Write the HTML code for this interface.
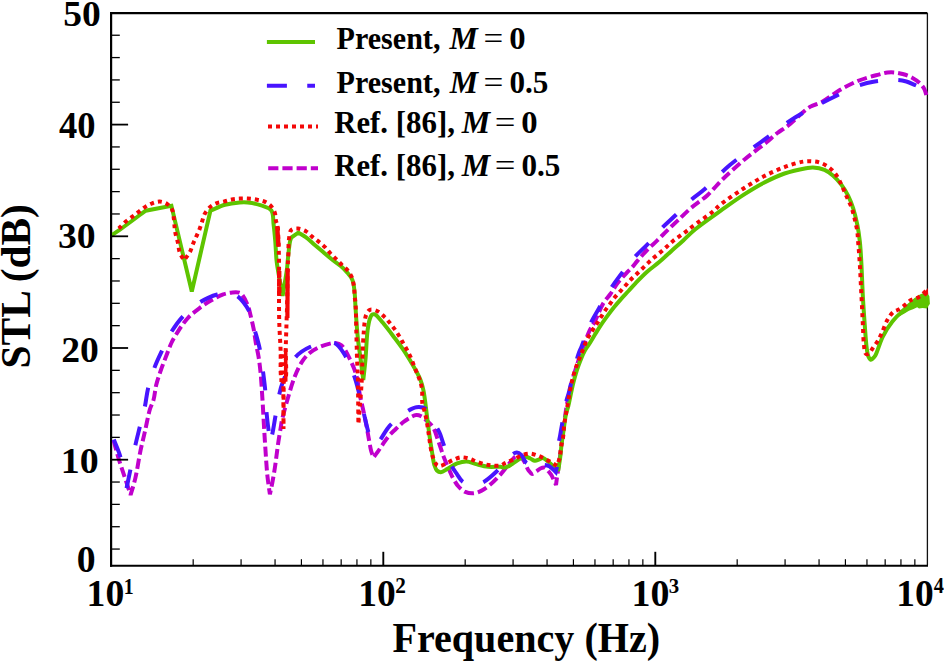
<!DOCTYPE html>
<html><head><meta charset="utf-8"><style>
html,body{margin:0;padding:0;background:#fff;}
body{width:944px;height:663px;overflow:hidden;}
svg{display:block;}
text{font-family:"Liberation Serif",serif;font-weight:bold;fill:#000;}
</style></head><body>
<svg width="944" height="663" viewBox="0 0 944 663">
<defs><clipPath id="c"><rect x="112" y="12" width="818" height="553"/></clipPath></defs>
<path d="M111.5,13.1 H927.4" stroke="#000" stroke-width="2.2" fill="none"/>
<path d="M927.4,12.9 V565.6" stroke="#111" stroke-width="1.3" fill="none"/>
<path d="M111.1,12 V566.8" stroke="#000" stroke-width="2.2" fill="none"/>
<path d="M110,565.8 H928" stroke="#000" stroke-width="2" fill="none"/>
<g clip-path="url(#c)" fill="none" stroke-width="4" stroke-linejoin="miter" stroke-miterlimit="3">
<path d="M113.60,440.50 C115.37,446.83 116.99,453.23 118.90,459.50 C120.79,465.73 123.01,471.97 125.00,478.00 C126.90,483.76 128.73,489.27 130.60,494.90 C132.17,489.40 133.83,484.65 135.30,478.40 C137.19,470.39 138.75,459.06 140.50,450.70 C141.96,443.73 143.39,438.24 144.90,431.60 C146.55,424.39 148.23,414.78 150.00,409.00 C151.14,405.27 152.53,403.43 153.50,400.00 C154.71,395.71 155.00,390.00 156.20,385.10 C157.40,380.20 159.04,375.41 160.70,370.60 C162.37,365.74 164.36,360.85 166.20,356.10 C167.99,351.49 169.56,346.71 171.60,342.50 C173.49,338.59 176.03,334.64 177.90,331.60 C179.29,329.34 180.19,327.88 181.70,325.80 C183.59,323.20 185.86,320.01 188.50,317.30 C191.41,314.32 195.02,311.50 198.60,308.80 C202.33,305.99 206.39,303.20 210.50,300.80 C214.59,298.41 219.21,295.79 223.20,294.40 C226.46,293.27 229.63,292.75 232.50,292.50 C234.93,292.29 237.62,292.17 239.30,292.70 C240.43,293.06 241.00,293.41 241.90,294.40 C243.71,296.38 246.26,301.51 247.80,305.40 C249.38,309.40 250.19,314.00 251.20,318.10 C252.14,321.91 252.96,325.30 253.70,329.20 C254.51,333.49 255.00,338.28 255.80,342.80 C256.60,347.34 257.73,351.70 258.50,356.40 C259.32,361.41 259.91,366.04 260.50,372.00 C261.29,379.97 261.92,390.95 262.50,400.00 C263.04,408.52 263.44,417.04 263.90,424.80 C264.31,431.66 264.69,437.85 265.10,444.20 C265.49,450.34 265.88,456.60 266.30,462.30 C266.68,467.40 266.94,471.75 267.50,476.80 C268.11,482.37 269.10,488.47 269.90,494.30 C270.70,490.47 271.53,486.86 272.30,482.80 C273.17,478.25 274.07,473.04 274.80,468.30 C275.50,463.78 276.00,459.43 276.60,455.00 C277.20,450.57 277.72,446.22 278.40,441.70 C279.11,436.97 280.14,431.20 280.80,427.20 C281.27,424.38 281.35,422.99 282.00,420.00 C283.11,414.89 285.45,406.51 287.50,399.50 C289.69,392.03 292.09,383.25 294.80,376.50 C297.04,370.90 299.39,365.72 302.10,361.60 C304.31,358.24 306.51,355.59 309.30,353.20 C312.13,350.78 315.57,348.80 319.00,347.20 C322.44,345.60 326.87,344.26 329.90,343.60 C331.99,343.15 333.47,342.78 335.30,343.00 C337.30,343.24 339.45,343.59 341.40,345.20 C344.62,347.85 347.87,355.16 350.40,360.30 C352.83,365.24 354.82,369.85 356.40,375.40 C358.22,381.79 358.94,390.37 360.20,396.60 C361.20,401.56 362.22,405.37 363.20,409.90 C364.22,414.60 365.28,419.59 366.20,424.30 C367.08,428.82 367.78,433.19 368.60,437.60 C369.41,441.99 370.12,447.07 371.10,450.70 C371.82,453.37 372.70,455.23 373.50,457.50 C374.90,455.63 376.27,453.91 377.70,451.90 C379.30,449.65 380.86,447.11 382.60,444.60 C384.48,441.88 386.39,438.81 388.60,436.20 C390.79,433.61 393.37,431.33 395.80,429.00 C398.20,426.70 400.60,424.26 403.10,422.30 C405.44,420.46 407.95,418.74 410.30,417.50 C412.33,416.43 414.38,415.23 416.30,415.10 C418.00,414.98 419.57,415.50 421.20,416.30 C423.21,417.29 425.27,419.29 427.20,421.10 C429.28,423.05 431.50,424.95 433.20,427.70 C435.30,431.10 436.47,435.89 438.10,440.40 C439.93,445.45 441.83,451.94 443.60,456.60 C444.97,460.21 446.14,462.75 447.60,466.10 C449.27,469.92 451.12,474.70 453.10,478.30 C454.79,481.38 456.39,484.19 458.50,486.50 C460.49,488.67 462.78,490.77 465.30,491.90 C467.76,493.00 470.72,493.50 473.40,493.30 C476.15,493.10 478.96,491.90 481.60,490.60 C484.41,489.22 486.91,487.40 489.70,485.10 C493.19,482.23 497.16,478.11 500.60,474.30 C504.07,470.45 507.54,465.37 510.40,462.10 C512.44,459.76 514.04,457.10 515.90,456.30 C517.22,455.73 518.68,455.73 519.90,456.30 C521.44,457.02 522.71,459.22 524.00,461.20 C525.62,463.69 526.89,468.05 528.50,470.30 C529.64,471.89 530.75,473.73 532.10,473.90 C533.48,474.08 535.28,472.14 536.70,471.20 C538.00,470.34 538.96,469.10 540.30,468.50 C541.66,467.89 543.48,467.20 544.80,467.60 C546.19,468.02 547.31,469.97 548.40,471.20 C549.43,472.37 550.23,473.23 551.20,474.80 C552.72,477.27 554.40,481.60 556.00,485.00 C556.33,482.50 556.58,480.44 557.00,477.50 C557.60,473.28 558.54,467.70 559.30,462.10 C560.21,455.40 560.99,447.93 562.00,440.00 C563.18,430.76 564.42,419.52 566.00,410.00 C567.45,401.26 568.96,393.11 571.00,385.00 C572.98,377.12 575.22,370.24 578.00,362.00 C581.30,352.21 586.44,337.30 589.80,330.20 C591.60,326.40 592.94,325.19 594.70,321.80 C597.23,316.94 600.11,308.57 603.10,303.60 C605.42,299.74 608.03,297.34 610.40,294.00 C612.87,290.52 614.88,286.64 617.60,283.10 C620.48,279.36 624.59,275.07 627.30,272.20 C629.15,270.24 630.51,269.17 632.10,267.40 C633.87,265.44 635.34,263.32 637.40,260.90 C640.12,257.71 643.75,253.45 647.10,250.00 C650.39,246.62 653.92,243.68 657.30,240.40 C660.75,237.05 664.14,233.46 667.60,230.10 C671.01,226.79 674.27,223.83 677.90,220.40 C681.98,216.55 686.22,212.12 690.90,208.10 C695.93,203.78 701.96,200.13 707.20,195.40 C712.75,190.39 717.36,184.37 723.20,178.70 C729.76,172.34 738.74,164.29 744.80,159.20 C748.98,155.69 752.07,153.53 755.70,150.70 C759.33,147.87 763.01,145.13 766.60,142.20 C770.24,139.23 773.72,135.84 777.40,133.00 C780.96,130.25 784.14,128.62 788.30,125.40 C794.38,120.69 803.47,110.80 809.90,106.90 C814.22,104.28 817.57,104.34 821.80,102.10 C827.23,99.22 833.26,93.88 839.40,90.30 C845.65,86.66 852.35,83.14 859.00,80.50 C865.43,77.95 873.32,76.02 878.60,74.60 C882.13,73.65 884.63,72.83 887.50,72.50 C890.11,72.20 892.59,72.25 895.10,72.50 C897.62,72.75 900.01,73.26 902.60,74.00 C905.52,74.83 908.83,75.86 911.70,77.40 C914.64,78.98 917.78,81.22 920.00,83.40 C921.90,85.27 923.42,87.29 924.50,89.40 C925.49,91.34 925.90,93.74 926.40,95.50 C926.78,96.82 927.00,97.83 927.30,99.00" stroke="#c000cc" stroke-dasharray="10 4"/>
<path d="M111.30,235.50 C114.20,233.53 116.36,232.17 120.00,229.60 C126.33,225.13 137.13,217.00 145.70,210.70 C154.27,209.07 162.83,207.43 171.40,205.80 C178.20,234.37 185.00,262.93 191.80,291.50 C198.00,264.57 204.20,237.63 210.40,210.70 C215.27,208.73 220.04,206.17 225.00,204.80 C229.82,203.47 235.54,202.82 239.70,202.50 C242.73,202.26 244.63,202.19 247.60,202.50 C251.54,202.92 257.08,203.96 261.20,205.40 C264.94,206.71 269.30,207.62 271.40,210.50 C273.75,213.72 272.97,219.67 273.60,224.60 C274.29,229.99 274.82,235.82 275.30,241.60 C275.80,247.61 276.01,255.13 276.50,260.00 C276.83,263.22 277.05,264.53 277.60,268.00 C278.63,274.51 280.93,286.67 282.60,296.00 C284.10,286.67 286.29,274.51 287.10,268.00 C287.53,264.53 287.47,263.21 287.80,260.00 C288.30,255.12 289.15,245.47 290.00,241.60 C290.41,239.75 290.87,238.93 291.30,237.60 C293.63,235.93 295.97,234.27 298.30,232.60 C300.77,234.13 303.21,235.39 305.70,237.20 C308.51,239.25 311.38,242.00 314.20,244.40 C317.01,246.80 319.79,249.20 322.60,251.60 C325.42,254.00 328.15,256.43 331.10,258.80 C334.17,261.27 337.97,263.76 340.70,266.10 C342.91,268.00 344.57,269.49 346.40,271.60 C348.49,274.00 351.02,276.61 352.40,279.90 C354.00,283.70 354.20,289.01 354.70,293.40 C355.17,297.53 355.07,300.50 355.40,305.50 C355.94,313.66 356.79,327.92 357.80,337.70 C358.65,345.94 359.85,353.11 360.80,360.40 C361.68,367.17 362.47,373.47 363.30,380.00 C364.00,373.47 364.75,367.64 365.40,360.40 C366.21,351.42 366.58,337.80 367.60,330.20 C368.23,325.54 368.84,321.83 369.80,319.00 C370.43,317.14 371.03,315.29 372.00,314.60 C372.68,314.12 373.62,314.12 374.40,314.30 C375.29,314.51 376.03,315.15 377.00,316.00 C378.62,317.42 380.55,319.97 382.70,322.60 C385.73,326.29 389.69,331.41 393.30,336.20 C397.24,341.43 401.78,347.31 405.40,352.80 C408.75,357.87 411.76,363.10 414.40,367.90 C416.71,372.11 418.95,376.03 420.50,380.00 C421.90,383.58 422.59,386.20 423.50,390.60 C424.95,397.58 426.10,409.89 427.20,418.10 C428.09,424.76 428.77,430.39 429.60,436.20 C430.37,441.62 431.16,446.90 432.00,451.90 C432.77,456.50 433.33,461.72 434.40,465.10 C435.11,467.35 435.67,469.31 436.90,470.50 C437.95,471.51 439.41,472.25 440.90,472.20 C442.86,472.13 445.19,470.10 447.60,468.80 C450.51,467.24 453.83,464.64 457.10,463.40 C460.18,462.23 463.45,461.29 466.60,461.40 C469.78,461.51 472.72,463.25 476.10,464.10 C479.90,465.06 484.20,466.35 488.30,466.80 C492.37,467.24 497.54,466.52 500.60,466.80 C502.44,466.97 503.40,467.83 505.00,467.60 C507.15,467.29 509.77,465.42 512.20,464.00 C514.89,462.43 517.87,459.74 520.40,458.50 C522.32,457.56 524.09,456.65 525.80,456.70 C527.38,456.75 528.81,457.83 530.30,458.50 C531.84,459.19 533.35,460.67 534.90,460.80 C536.38,460.92 537.99,459.87 539.40,459.40 C540.67,458.97 541.77,457.94 543.00,458.10 C544.46,458.29 545.95,460.02 547.50,461.20 C549.27,462.55 551.43,464.19 553.00,465.80 C554.41,467.24 555.40,468.80 556.60,470.30 C557.20,470.00 557.80,469.70 558.40,469.40 C559.00,465.47 559.68,461.68 560.20,457.60 C560.76,453.23 561.04,448.54 561.60,444.00 C562.17,439.41 562.92,434.90 563.60,430.20 C564.31,425.28 564.88,419.47 565.80,415.10 C566.52,411.66 567.38,409.74 568.30,406.00 C569.75,400.09 571.51,390.01 573.30,383.00 C574.84,376.99 576.26,371.82 578.20,366.40 C580.13,360.99 582.82,354.35 584.90,350.50 C586.19,348.11 587.24,347.12 588.60,345.00 C590.41,342.18 592.67,338.29 594.70,335.00 C596.70,331.76 598.66,328.48 600.70,325.40 C602.66,322.45 604.57,319.80 606.70,316.90 C608.99,313.78 611.53,310.37 614.00,307.30 C616.37,304.35 618.76,301.54 621.20,298.80 C623.59,296.11 626.08,293.62 628.50,291.00 C630.92,288.38 632.99,285.93 635.70,283.10 C639.03,279.63 643.15,275.33 647.10,271.80 C650.99,268.33 655.23,265.49 659.20,262.10 C663.26,258.63 667.18,254.82 671.20,251.20 C675.22,247.58 679.32,244.03 683.30,240.40 C687.25,236.80 690.18,233.48 695.00,229.50 C701.85,223.84 712.82,216.32 721.10,210.40 C728.50,205.11 735.16,200.22 742.30,195.60 C749.26,191.10 756.26,186.72 763.40,183.00 C770.33,179.39 777.32,175.98 784.50,173.50 C791.53,171.08 800.77,169.14 806.00,168.20 C808.95,167.67 810.39,167.28 813.00,167.40 C816.37,167.56 821.06,168.34 824.50,169.80 C827.75,171.18 830.47,173.32 833.20,175.70 C836.17,178.28 839.02,181.60 841.50,184.90 C843.99,188.23 846.19,191.81 848.10,195.60 C850.08,199.52 851.63,203.59 853.10,208.10 C854.75,213.19 856.18,219.14 857.30,224.70 C858.41,230.21 859.16,235.59 859.80,241.30 C860.48,247.34 860.76,252.70 861.20,260.00 C861.82,270.28 862.25,285.65 862.90,297.20 C863.47,307.28 864.13,316.60 864.80,325.50 C865.40,333.46 865.89,342.41 866.70,348.10 C867.20,351.60 867.55,354.40 868.40,356.50 C868.97,357.92 869.69,359.60 870.50,359.80 C871.13,359.96 871.91,359.16 872.60,358.60 C873.48,357.89 874.26,357.21 875.20,355.70 C877.34,352.25 879.75,342.62 882.70,336.80 C885.47,331.35 888.78,325.98 892.20,321.70 C895.15,318.01 898.30,314.89 901.60,312.30 C904.60,309.95 907.79,308.20 911.00,306.60 C914.10,305.06 917.57,303.79 920.50,302.80 C922.93,301.98 925.03,301.53 927.30,300.90" stroke="#5ec400"/>
<path d="M899,311.5 L906.8,304.5 L914.5,298.1 L919.9,294.5 L923.5,293.1 L928,294 L929.4,296.3 L929.9,304 L929,304.9 L927.1,308.5 L922.6,308.1 L919,308.5 L917.2,307.2 L913.6,309 L909,310.8 L904.5,313.5 L900,316 Z" fill="#5ec400" stroke="none"/>
<path d="M113.80,439.50 C116.07,445.53 118.65,450.67 120.60,457.60 C123.08,466.44 124.53,478.20 126.50,488.50 C128.00,481.27 129.53,474.00 131.00,466.80 C132.46,459.67 133.79,452.31 135.30,445.50 C136.70,439.18 138.16,433.57 139.70,427.30 C141.35,420.59 143.48,413.19 144.90,406.50 C146.20,400.36 146.53,394.82 148.00,388.70 C149.61,381.99 151.91,374.53 154.40,367.90 C156.78,361.56 159.65,355.72 162.50,349.70 C165.38,343.62 168.12,337.24 171.60,331.60 C174.98,326.13 178.48,321.05 183.00,316.30 C187.89,311.16 195.53,305.25 200.20,302.10 C203.07,300.17 204.93,299.32 207.60,298.10 C210.55,296.76 214.02,295.26 217.20,294.50 C220.15,293.79 222.93,293.32 226.00,293.50 C229.43,293.70 233.73,294.30 236.80,296.00 C239.81,297.67 242.21,300.88 244.30,303.50 C246.21,305.90 247.53,307.76 249.00,311.00 C251.27,316.01 253.24,324.69 255.10,331.30 C256.86,337.54 258.60,343.14 259.90,349.60 C261.33,356.70 262.18,365.12 263.10,372.20 C263.91,378.46 264.65,383.65 265.20,389.90 C265.82,396.90 265.89,405.13 266.50,412.20 C267.05,418.64 267.87,425.34 268.60,430.60 C269.15,434.57 269.73,437.53 270.30,441.00 C271.00,438.50 271.71,436.53 272.40,433.50 C273.43,428.96 274.31,422.44 275.40,416.30 C276.65,409.23 278.08,399.62 279.50,393.50 C280.47,389.30 280.87,387.18 282.50,383.00 C285.14,376.22 290.01,363.54 295.40,357.30 C299.70,352.32 305.52,349.00 310.40,346.80 C314.34,345.02 318.09,344.63 322.00,344.00 C325.89,343.37 331.21,342.50 333.80,343.00 C335.18,343.26 335.69,343.59 336.80,344.50 C338.93,346.25 341.98,350.31 344.40,354.30 C347.59,359.57 351.07,367.82 353.40,373.90 C355.33,378.95 356.28,382.55 357.80,388.10 C359.90,395.80 362.43,407.79 364.40,415.90 C365.94,422.24 366.93,427.46 368.60,432.80 C370.16,437.79 372.20,442.27 374.00,447.00 C376.07,444.60 378.00,442.68 380.20,439.80 C383.16,435.93 385.69,430.09 389.80,425.60 C394.59,420.37 402.83,414.00 407.90,410.90 C411.08,408.96 413.34,407.54 416.30,407.20 C419.37,406.84 423.08,406.95 426.00,409.00 C430.32,412.04 434.42,423.14 436.90,427.70 C438.30,430.26 439.01,431.45 440.00,433.80 C441.27,436.81 442.12,440.25 443.60,444.40 C445.73,450.36 448.96,460.70 451.70,466.10 C453.48,469.61 455.25,471.66 457.10,474.30 C458.89,476.86 460.18,479.91 462.60,481.70 C465.13,483.57 468.81,484.94 472.10,485.10 C475.56,485.27 479.25,484.21 482.90,482.40 C487.59,480.07 492.54,475.27 497.20,470.90 C502.33,466.09 508.39,457.16 512.20,454.50 C514.00,453.24 515.29,452.54 516.80,452.60 C518.32,452.66 519.89,453.63 521.30,454.90 C523.27,456.66 524.29,461.43 526.70,463.10 C528.94,464.66 532.17,464.70 535.00,465.00 C537.90,465.31 541.32,464.61 543.90,464.90 C545.94,465.13 547.54,465.26 549.30,466.20 C551.50,467.37 553.57,470.13 555.70,472.10 C556.30,469.40 557.06,467.29 557.50,464.00 C558.17,459.02 557.80,450.31 558.40,445.00 C558.84,441.12 559.60,438.40 560.20,435.00 C560.83,431.47 561.32,428.51 562.10,424.20 C563.27,417.74 565.32,405.15 566.60,400.00 C567.22,397.53 567.55,397.25 568.30,394.60 C570.31,387.47 575.50,363.06 578.20,354.80 C579.46,350.94 580.21,349.97 581.60,346.50 C583.92,340.70 587.49,330.01 590.70,323.20 C593.35,317.58 595.92,313.64 599.00,308.30 C602.66,301.96 607.40,293.66 611.30,287.70 C614.43,282.91 616.87,279.63 620.30,275.10 C624.49,269.56 629.98,262.38 634.80,257.00 C639.04,252.26 643.19,248.86 647.50,244.30 C652.25,239.27 657.14,233.00 662.00,228.00 C666.48,223.40 670.88,219.76 675.50,215.30 C680.50,210.47 685.89,204.44 690.90,200.00 C695.22,196.17 698.73,194.21 703.60,190.00 C710.85,183.72 720.25,173.16 729.60,165.30 C739.41,157.06 750.53,149.66 761.30,141.80 C772.36,133.73 784.29,124.28 795.10,117.50 C804.33,111.71 814.04,107.03 821.80,103.00 C827.69,99.94 831.83,97.90 837.50,95.20 C844.08,92.07 852.29,87.74 859.00,85.40 C864.55,83.46 868.94,82.40 874.70,81.50 C881.53,80.43 891.57,79.71 897.40,80.00 C901.09,80.18 903.51,80.68 906.40,81.50 C909.27,82.32 911.67,83.55 914.70,84.90 C918.49,86.59 923.10,88.97 927.30,91.00" stroke="#4814ff" stroke-dasharray="19.00 32.09 19.00 24.86 19.00 20.92 19.00 20.85 19.00 21.20 19.00 22.58 19.00 20.40 19.00 20.99 19.00 21.95 19.00 21.71 19.00 17.10 19.00 21.43 19.00 22.02 19.00 23.31 19.00 19.63 19.00 20.65 19.00 26.10 19.00 21.17 19.00 22.48 19.00 21.90 19.00 21.58 19.00 22.07 19.00 18.32 19.00 25.97 19.00 21.05 19.00 25.11 19.00 19.88 19.00 22.06 19.00 19.69 19.00 20.78 19.00 21.25 19.00 22.20 19.00 21.32 19.00 21.64 19.00 21.72 19.00 22.83 19.00 19.98 19.00 21.60"/>
<path d="M118.60,228.40 C119.07,228.03 119.40,227.84 120.00,227.30 C121.30,226.15 123.73,223.28 125.80,221.50 C127.87,219.72 130.20,218.25 132.40,216.60 C134.60,214.95 136.79,213.26 139.00,211.60 C141.22,209.93 143.41,208.01 145.70,206.60 C147.85,205.27 149.98,204.13 152.30,203.30 C154.67,202.45 157.32,201.48 159.80,201.60 C162.32,201.72 165.22,202.69 167.30,204.10 C169.34,205.48 171.10,207.58 172.20,209.90 C173.42,212.46 173.48,215.95 173.90,219.00 C174.32,222.05 174.37,225.49 174.70,228.20 C174.96,230.36 175.15,231.86 175.60,234.00 C176.17,236.71 177.32,240.04 178.00,243.10 C178.68,246.17 178.69,249.50 179.70,252.40 C180.68,255.22 182.50,257.67 183.90,260.30 C185.83,257.67 188.17,255.19 189.70,252.40 C191.18,249.71 191.87,246.62 193.00,243.90 C194.07,241.33 195.20,238.98 196.30,236.50 C197.40,234.01 198.63,231.52 199.60,229.00 C200.56,226.52 201.26,223.99 202.10,221.50 C202.93,219.02 203.38,216.42 204.60,214.10 C205.86,211.70 207.62,209.22 209.60,207.40 C211.51,205.65 213.84,204.27 216.20,203.30 C218.54,202.34 221.16,202.22 223.70,201.60 C226.35,200.96 229.10,200.00 231.80,199.50 C234.43,199.01 237.06,198.75 239.70,198.60 C242.33,198.45 244.92,198.46 247.60,198.60 C250.39,198.75 253.33,199.02 256.10,199.50 C258.80,199.97 261.55,200.34 264.00,201.40 C266.45,202.47 268.99,203.99 270.80,205.90 C272.58,207.77 273.95,210.26 274.80,212.70 C275.66,215.16 275.36,218.28 275.90,220.60 C276.35,222.51 277.21,223.73 277.60,225.70 C278.10,228.27 278.04,231.68 278.20,234.80 C278.37,238.10 278.48,241.27 278.60,245.00 C278.75,249.52 278.90,253.33 279.00,260.00 C279.20,273.33 278.79,303.44 279.20,320.00 C279.49,331.72 280.25,340.17 280.60,350.00 C280.94,359.49 280.04,372.95 281.30,378.00 C281.80,380.02 282.63,380.67 283.30,382.00 C283.37,397.67 283.43,413.33 283.50,429.00 C283.57,413.33 283.63,397.67 283.70,382.00 C284.37,380.67 285.22,380.02 285.70,378.00 C286.89,372.95 285.57,358.55 285.70,350.00 C285.81,342.77 286.08,337.34 286.30,330.00 C286.57,321.01 286.98,310.00 287.20,300.00 C287.42,290.00 287.35,278.28 287.60,270.00 C287.78,264.14 288.07,260.07 288.30,255.00 C288.54,249.78 288.33,243.64 289.00,239.10 C289.51,235.62 289.53,231.69 291.30,230.00 C292.82,228.54 295.75,228.43 298.10,228.60 C300.75,228.79 303.97,230.16 306.40,231.60 C308.71,232.97 310.31,235.18 312.40,236.90 C314.57,238.68 317.03,240.32 319.20,242.10 C321.29,243.82 323.32,245.51 325.20,247.40 C327.09,249.30 328.63,251.51 330.50,253.50 C332.42,255.55 334.66,257.55 336.60,259.50 C338.41,261.31 339.99,262.99 341.80,264.80 C343.74,266.75 346.22,268.69 347.90,270.80 C349.42,272.71 350.63,274.51 351.60,276.80 C352.72,279.44 353.38,282.74 353.90,285.90 C354.45,289.25 354.40,293.08 354.70,296.40 C354.97,299.41 355.36,301.38 355.60,305.00 C356.01,311.19 356.06,321.42 356.30,330.20 C356.56,339.81 356.80,352.06 357.10,360.40 C357.31,366.30 357.61,369.04 357.80,375.50 C358.14,387.08 358.20,407.83 358.40,424.00 C359.47,410.33 360.94,394.65 361.60,383.00 C362.09,374.36 362.14,367.52 362.40,360.40 C362.64,354.03 362.82,347.73 363.10,342.30 C363.33,337.86 363.62,333.76 363.90,330.20 C364.12,327.37 364.23,325.12 364.60,322.60 C364.97,320.08 365.15,317.29 366.10,315.10 C366.98,313.07 368.13,310.50 369.90,309.80 C371.83,309.04 375.17,310.22 377.50,311.30 C379.95,312.43 382.17,314.68 384.20,316.60 C386.16,318.46 387.76,320.51 389.50,322.60 C391.30,324.77 393.15,327.10 394.80,329.40 C396.41,331.64 397.90,333.91 399.30,336.20 C400.67,338.44 401.83,340.73 403.10,343.00 C404.37,345.27 405.66,347.46 406.90,349.80 C408.20,352.25 409.56,354.85 410.70,357.40 C411.82,359.89 412.70,362.39 413.70,364.90 C414.70,367.42 415.70,369.98 416.70,372.50 C417.70,375.01 418.84,377.36 419.70,380.00 C420.62,382.83 421.53,385.61 422.00,389.00 C422.59,393.25 421.76,399.42 422.40,403.60 C422.90,406.85 424.06,409.01 424.80,412.10 C425.68,415.74 426.50,420.08 427.20,424.10 C427.90,428.12 428.40,432.17 429.00,436.20 C429.60,440.23 430.05,444.52 430.80,448.30 C431.48,451.70 432.10,454.99 433.20,457.90 C434.19,460.53 435.42,463.88 436.90,465.10 C437.83,465.87 438.80,466.07 440.00,466.00 C441.75,465.90 444.18,464.37 446.30,463.40 C448.54,462.38 450.70,461.00 453.10,460.00 C455.65,458.95 458.47,457.51 461.20,457.30 C463.87,457.10 466.75,457.98 469.30,458.70 C471.70,459.38 473.71,460.53 476.10,461.40 C478.69,462.34 481.55,463.41 484.30,464.10 C486.98,464.77 489.68,465.27 492.40,465.50 C495.12,465.73 498.35,466.07 500.60,465.50 C502.36,465.05 503.51,463.82 505.00,463.10 C506.47,462.39 507.92,461.85 509.50,461.20 C511.24,460.49 513.14,459.90 515.00,459.00 C517.06,458.00 518.99,456.29 521.30,455.40 C523.77,454.45 526.74,453.59 529.40,453.60 C532.00,453.61 534.60,454.58 537.10,455.40 C539.60,456.22 542.01,457.32 544.40,458.50 C546.84,459.71 549.38,461.31 551.60,462.60 C553.53,463.72 555.20,464.73 557.00,465.80 C557.47,464.57 557.97,463.46 558.40,462.10 C558.91,460.48 559.42,458.58 559.80,456.70 C560.20,454.69 560.40,452.51 560.70,450.40 C561.00,448.28 561.21,446.03 561.60,444.00 C561.96,442.11 562.52,440.85 562.90,438.60 C563.51,434.97 563.74,428.44 564.30,424.20 C564.74,420.81 565.28,418.13 565.80,415.10 C566.32,412.07 566.73,409.72 567.40,406.00 C568.46,400.08 570.05,389.82 571.60,383.00 C572.87,377.44 574.05,372.95 575.70,368.00 C577.37,362.98 579.63,358.02 581.60,353.10 C583.53,348.26 585.39,342.72 587.40,338.70 C588.95,335.60 590.62,333.30 592.20,330.80 C593.65,328.49 595.08,326.41 596.50,324.20 C597.92,321.98 599.30,319.72 600.70,317.50 C602.10,315.29 603.40,313.07 604.90,310.90 C606.43,308.67 608.18,306.52 609.80,304.30 C611.42,302.08 612.89,299.73 614.60,297.60 C616.29,295.50 618.19,293.61 620.00,291.60 C621.82,289.57 623.68,287.53 625.50,285.50 C627.31,283.49 629.01,281.44 630.90,279.50 C632.81,277.54 634.91,275.70 636.90,273.80 C638.88,271.90 640.82,270.03 642.80,268.10 C644.82,266.13 646.91,263.97 648.90,262.10 C650.73,260.39 652.39,258.94 654.30,257.30 C656.40,255.51 658.85,253.65 661.00,251.80 C663.08,250.02 665.00,248.20 667.00,246.40 C669.00,244.60 670.90,242.71 673.00,241.00 C675.13,239.27 677.47,237.72 679.70,236.10 C681.91,234.49 684.16,232.92 686.30,231.30 C688.39,229.72 689.75,228.51 692.40,226.50 C697.15,222.89 707.38,215.93 712.60,211.70 C716.12,208.85 717.52,206.93 721.10,204.10 C726.48,199.84 735.16,193.93 742.30,189.30 C749.27,184.78 756.25,180.34 763.40,176.60 C770.33,172.97 777.58,169.66 784.50,167.10 C790.86,164.75 798.26,162.42 803.30,161.60 C806.58,161.07 808.91,161.15 811.60,161.30 C814.17,161.44 816.65,161.68 819.10,162.40 C821.65,163.15 824.27,164.35 826.60,165.80 C828.97,167.27 831.27,169.14 833.20,171.20 C835.14,173.27 836.78,175.83 838.20,178.20 C839.52,180.40 840.42,182.60 841.50,184.90 C842.62,187.29 843.70,189.82 844.80,192.30 C845.90,194.79 846.98,197.30 848.10,199.80 C849.22,202.30 850.54,204.70 851.50,207.30 C852.48,209.96 853.20,212.90 853.90,215.60 C854.56,218.13 855.05,220.46 855.60,223.00 C856.18,225.68 856.89,228.39 857.30,231.30 C857.75,234.47 857.83,237.98 858.10,241.30 C858.37,244.61 858.62,247.42 858.90,251.20 C859.28,256.25 859.75,262.91 860.10,268.90 C860.46,275.07 860.68,281.43 861.00,287.70 C861.32,293.99 861.68,300.30 862.00,306.60 C862.32,312.90 862.58,319.21 862.90,325.50 C863.22,331.78 863.25,339.11 863.90,344.30 C864.37,348.02 864.45,352.69 865.80,353.80 C866.53,354.40 867.67,354.28 868.60,353.80 C870.18,352.99 871.73,349.40 873.30,347.20 C874.87,345.00 876.60,342.94 878.00,340.60 C879.44,338.21 880.45,335.90 881.80,333.00 C883.56,329.22 885.37,323.48 887.50,319.80 C889.22,316.83 891.00,314.07 893.10,312.30 C894.84,310.84 896.87,310.57 898.80,309.40 C900.97,308.09 903.32,306.31 905.40,304.70 C907.38,303.17 908.87,301.24 911.00,300.00 C913.24,298.70 916.20,298.63 918.60,297.20 C921.27,295.61 924.71,292.10 926.10,290.60 C926.72,289.93 926.90,289.53 927.30,289.00" stroke="#f40808" stroke-dasharray="4 4"/>
<path d="M923.2,294.6 L927.6,288 L928.2,294 L925.6,296.4 Z" fill="#f40808" stroke="none"/>
<path d="M277.2,226 L278.4,246" stroke="#f40808" stroke-width="4.4"/>
<path d="M287.7,269 L287.4,318" stroke="#f40808" stroke-width="4.2"/>
<path d="M279.2,271 L279.3,296" stroke="#f40808" stroke-width="4.4" stroke-dasharray="6 2"/>
<path d="M285.7,349.4 V381.6" stroke="#f40808" stroke-width="3.6"/>
<path d="M279.4,356.1 H284 M279.4,364.2 H284 M279.4,372.4 H284 M279.4,380.1 H284" stroke="#f40808" stroke-width="3.8"/>
</g>
<g>
<line x1="193.18" y1="565" x2="193.18" y2="559.2" stroke="#000" stroke-width="1.2"/>
<line x1="241.08" y1="565" x2="241.08" y2="559.2" stroke="#000" stroke-width="1.2"/>
<line x1="275.06" y1="565" x2="275.06" y2="559.2" stroke="#000" stroke-width="1.2"/>
<line x1="301.42" y1="565" x2="301.42" y2="559.2" stroke="#000" stroke-width="1.2"/>
<line x1="322.96" y1="565" x2="322.96" y2="559.2" stroke="#000" stroke-width="1.2"/>
<line x1="341.17" y1="565" x2="341.17" y2="559.2" stroke="#000" stroke-width="1.2"/>
<line x1="356.94" y1="565" x2="356.94" y2="559.2" stroke="#000" stroke-width="1.2"/>
<line x1="370.85" y1="565" x2="370.85" y2="559.2" stroke="#000" stroke-width="1.2"/>
<line x1="383.30" y1="565" x2="383.30" y2="551.8" stroke="#000" stroke-width="1.9"/>
<line x1="465.18" y1="565" x2="465.18" y2="559.2" stroke="#000" stroke-width="1.2"/>
<line x1="513.08" y1="565" x2="513.08" y2="559.2" stroke="#000" stroke-width="1.2"/>
<line x1="547.06" y1="565" x2="547.06" y2="559.2" stroke="#000" stroke-width="1.2"/>
<line x1="573.42" y1="565" x2="573.42" y2="559.2" stroke="#000" stroke-width="1.2"/>
<line x1="594.96" y1="565" x2="594.96" y2="559.2" stroke="#000" stroke-width="1.2"/>
<line x1="613.17" y1="565" x2="613.17" y2="559.2" stroke="#000" stroke-width="1.2"/>
<line x1="628.94" y1="565" x2="628.94" y2="559.2" stroke="#000" stroke-width="1.2"/>
<line x1="642.85" y1="565" x2="642.85" y2="559.2" stroke="#000" stroke-width="1.2"/>
<line x1="655.30" y1="565" x2="655.30" y2="551.8" stroke="#000" stroke-width="1.9"/>
<line x1="737.18" y1="565" x2="737.18" y2="559.2" stroke="#000" stroke-width="1.2"/>
<line x1="785.08" y1="565" x2="785.08" y2="559.2" stroke="#000" stroke-width="1.2"/>
<line x1="819.06" y1="565" x2="819.06" y2="559.2" stroke="#000" stroke-width="1.2"/>
<line x1="845.42" y1="565" x2="845.42" y2="559.2" stroke="#000" stroke-width="1.2"/>
<line x1="866.96" y1="565" x2="866.96" y2="559.2" stroke="#000" stroke-width="1.2"/>
<line x1="885.17" y1="565" x2="885.17" y2="559.2" stroke="#000" stroke-width="1.2"/>
<line x1="900.94" y1="565" x2="900.94" y2="559.2" stroke="#000" stroke-width="1.2"/>
<line x1="914.85" y1="565" x2="914.85" y2="559.2" stroke="#000" stroke-width="1.2"/>
<line x1="111" y1="549.06" x2="119.8" y2="549.06" stroke="#000" stroke-width="1.3"/>
<line x1="111" y1="526.72" x2="119.8" y2="526.72" stroke="#000" stroke-width="1.3"/>
<line x1="111" y1="504.38" x2="119.8" y2="504.38" stroke="#000" stroke-width="1.3"/>
<line x1="111" y1="482.04" x2="119.8" y2="482.04" stroke="#000" stroke-width="1.3"/>
<line x1="111" y1="459.70" x2="128.1" y2="459.70" stroke="#000" stroke-width="1.8"/>
<line x1="111" y1="437.36" x2="119.8" y2="437.36" stroke="#000" stroke-width="1.3"/>
<line x1="111" y1="415.02" x2="119.8" y2="415.02" stroke="#000" stroke-width="1.3"/>
<line x1="111" y1="392.68" x2="119.8" y2="392.68" stroke="#000" stroke-width="1.3"/>
<line x1="111" y1="370.34" x2="119.8" y2="370.34" stroke="#000" stroke-width="1.3"/>
<line x1="111" y1="348.00" x2="128.1" y2="348.00" stroke="#000" stroke-width="1.8"/>
<line x1="111" y1="325.66" x2="119.8" y2="325.66" stroke="#000" stroke-width="1.3"/>
<line x1="111" y1="303.32" x2="119.8" y2="303.32" stroke="#000" stroke-width="1.3"/>
<line x1="111" y1="280.98" x2="119.8" y2="280.98" stroke="#000" stroke-width="1.3"/>
<line x1="111" y1="258.64" x2="119.8" y2="258.64" stroke="#000" stroke-width="1.3"/>
<line x1="111" y1="236.30" x2="128.1" y2="236.30" stroke="#000" stroke-width="1.8"/>
<line x1="111" y1="213.96" x2="119.8" y2="213.96" stroke="#000" stroke-width="1.3"/>
<line x1="111" y1="191.62" x2="119.8" y2="191.62" stroke="#000" stroke-width="1.3"/>
<line x1="111" y1="169.28" x2="119.8" y2="169.28" stroke="#000" stroke-width="1.3"/>
<line x1="111" y1="146.94" x2="119.8" y2="146.94" stroke="#000" stroke-width="1.3"/>
<line x1="111" y1="124.60" x2="128.1" y2="124.60" stroke="#000" stroke-width="1.8"/>
<line x1="111" y1="102.26" x2="119.8" y2="102.26" stroke="#000" stroke-width="1.3"/>
<line x1="111" y1="79.92" x2="119.8" y2="79.92" stroke="#000" stroke-width="1.3"/>
<line x1="111" y1="57.58" x2="119.8" y2="57.58" stroke="#000" stroke-width="1.3"/>
<line x1="111" y1="35.24" x2="119.8" y2="35.24" stroke="#000" stroke-width="1.3"/>
</g>
<g fill="none" stroke-width="4">
<line x1="266.9" y1="42" x2="315" y2="42" stroke="#5ec400"/>
<line x1="266.9" y1="85.8" x2="315" y2="85.8" stroke="#4814ff" stroke-dasharray="20 20.35"/>
<line x1="268" y1="126.4" x2="318" y2="126.4" stroke="#f40808" stroke-dasharray="4 4"/>
<line x1="268.2" y1="168.2" x2="318" y2="168.2" stroke="#c000cc" stroke-dasharray="10.2 4"/>
</g>
<text transform="translate(63.34,26.44) scale(1.0424,1.0227)" font-size="36">50</text>
<text transform="translate(58.99,137.74) scale(1.0147,1.0309)" font-size="36">40</text>
<text transform="translate(57.89,248.44) scale(1.0466,1.0227)" font-size="36">30</text>
<text transform="translate(61.13,361.84) scale(1.0455,1.0227)" font-size="36">20</text>
<text transform="translate(60.84,472.84) scale(1.0540,1.0227)" font-size="36">10</text>
<text transform="translate(76.73,571.74) scale(1.0467,1.0309)" font-size="36">0</text>
<text transform="translate(86.56,605.74) scale(1.0476,1.0309)" font-size="36">10</text>
<text transform="translate(123.83,593.80) scale(0.9000,1.0414)" font-size="22">1</text>
<text transform="translate(358.18,605.54) scale(1.0413,1.0268)" font-size="36">10</text>
<text transform="translate(395.23,593.40) scale(0.9667,1.0138)" font-size="22">2</text>
<text transform="translate(631.54,605.54) scale(1.0540,1.0268)" font-size="36">10</text>
<text transform="translate(668.69,593.15) scale(0.9474,0.9966)" font-size="22">3</text>
<text transform="translate(896.18,605.54) scale(1.0413,1.0268)" font-size="36">10</text>
<text transform="translate(933.77,593.40) scale(0.9268,1.0138)" font-size="22">4</text>
<text transform="translate(392.45,652.00) scale(1.0030,1.0308)" font-size="40">Frequency (Hz)</text>
<text transform="translate(29.60,368.43) rotate(-90) scale(1.0335,1.0385)" font-size="40">STL (dB)</text>
<text transform="translate(336.53,48.60) scale(0.9407,0.9740)" font-size="32">Present,</text>
<text transform="translate(449.60,48.60) scale(0.9950,0.9740)" font-size="32"><tspan font-style="italic">M</tspan></text>
<text transform="translate(483.46,48.60) scale(1.0933,0.9740)" font-size="32"><tspan font-weight="normal">=</tspan></text>
<text transform="translate(509.22,48.60) scale(1.0222,0.9740)" font-size="32">0</text>
<text transform="translate(336.53,92.80) scale(0.9407,0.9740)" font-size="32">Present,</text>
<text transform="translate(449.80,92.80) scale(0.9950,0.9740)" font-size="32"><tspan font-style="italic">M</tspan></text>
<text transform="translate(483.45,92.80) scale(1.1000,0.9740)" font-size="32"><tspan font-weight="normal">=</tspan></text>
<text transform="translate(509.38,92.80) scale(0.9733,0.9740)" font-size="32">0.5</text>
<text transform="translate(334.32,132.80) scale(0.9574,0.9740)" font-size="32">Ref.</text>
<text transform="translate(395.78,132.80) scale(0.9670,0.9740)" font-size="32">[86],</text>
<text transform="translate(461.80,132.80) scale(0.9983,0.9740)" font-size="32"><tspan font-style="italic">M</tspan></text>
<text transform="translate(494.78,132.80) scale(1.1467,0.9740)" font-size="32"><tspan font-weight="normal">=</tspan></text>
<text transform="translate(521.32,132.80) scale(1.0222,0.9740)" font-size="32">0</text>
<text transform="translate(334.32,176.20) scale(0.9574,0.9740)" font-size="32">Ref.</text>
<text transform="translate(395.78,176.20) scale(0.9670,0.9740)" font-size="32">[86],</text>
<text transform="translate(461.80,176.20) scale(0.9983,0.9740)" font-size="32"><tspan font-style="italic">M</tspan></text>
<text transform="translate(494.78,176.20) scale(1.1467,0.9740)" font-size="32"><tspan font-weight="normal">=</tspan></text>
<text transform="translate(521.38,176.20) scale(0.9733,0.9740)" font-size="32">0.5</text>
</svg>
</body></html>
